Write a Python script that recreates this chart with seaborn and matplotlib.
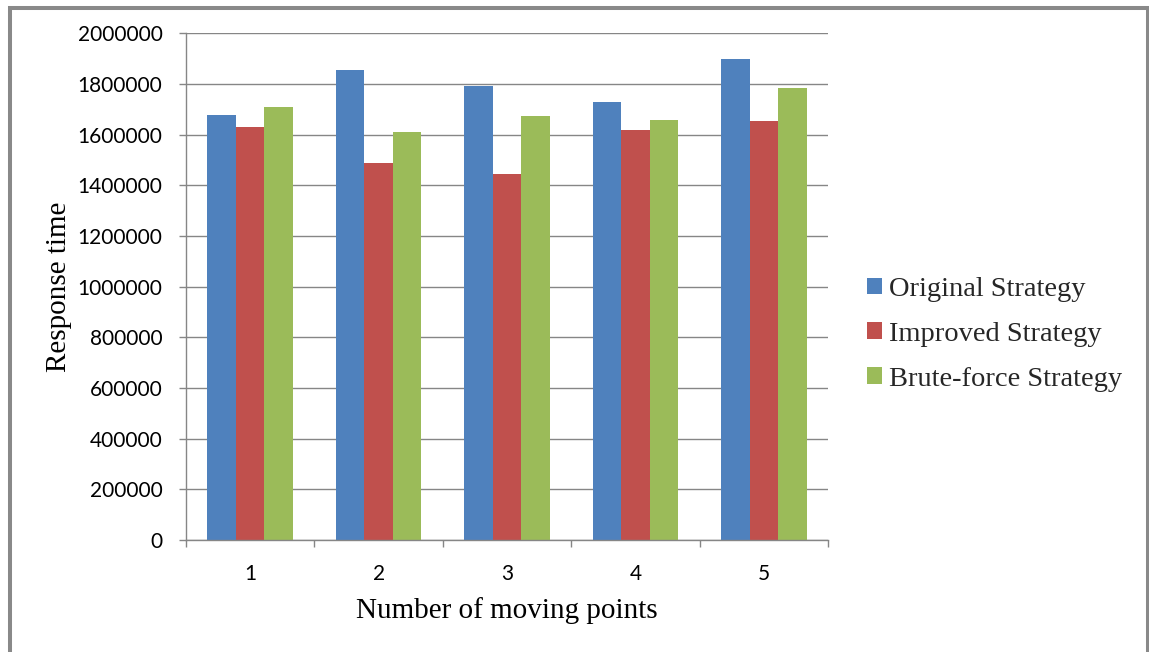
import numpy as np
import pandas as pd
import matplotlib
matplotlib.use("Agg")
import matplotlib.pyplot as plt
import seaborn as sns
from matplotlib.patches import Rectangle

# Response times per strategy, for 1..5 moving points
moving_points = ["1", "2", "3", "4", "5"]
original = [1676000, 1854000, 1792000, 1729000, 1899000]
improved = [1630000, 1487000, 1443000, 1617000, 1653000]
brute_force = [1710000, 1609000, 1672000, 1658000, 1784000]
strategies = ["Original Strategy", "Improved Strategy", "Brute-force Strategy"]
colors = ["#4F81BD", "#C0504D", "#9BBB59"]
y_ticks = list(range(0, 2000001, 200000))

df = pd.DataFrame({
    "points": moving_points * 3,
    "time": original + improved + brute_force,
    "strategy": np.repeat(strategies, len(moving_points)),
})

sns.set_theme(style="white")
plt.rcParams["font.family"] = ["Lato", "DejaVu Sans"]

W, H = 1149, 652
fig = plt.figure(figsize=(W / 100, H / 100), dpi=100)
fig.patch.set_facecolor("white")
ax = fig.add_axes([186 / W, 1 - 540 / H, (828 - 186) / W, (540 - 33.3) / H])

sns.barplot(data=df, x="points", y="time", hue="strategy", palette=colors,
            saturation=1, width=0.667, linewidth=0, ax=ax)

grey = "#868686"
ax.set_xlim(-0.5, 4.5)
ax.set_ylim(0, 2000000)
ax.set_yticks(y_ticks)
ax.yaxis.set_major_formatter(lambda v, p: f"{int(v)}")
ax.set_axisbelow(True)
ax.yaxis.grid(True, color=grey, linewidth=1.0)
ax.xaxis.grid(False)

for s in ("top", "right"):
    ax.spines[s].set_visible(False)
for s in ("left", "bottom"):
    ax.spines[s].set_color(grey)
    ax.spines[s].set_linewidth(1.0)

# category separators on the x axis
ax.set_xticks(np.arange(-0.5, 5.0, 1.0), minor=True)
ax.tick_params(axis="x", which="major", length=0, pad=17, labelsize=15, labelcolor="black")
ax.tick_params(axis="x", which="minor", length=5, width=1.0, color=grey, direction="out", bottom=True)
ax.tick_params(axis="y", which="major", length=5, width=1.0, color=grey, direction="out",
               left=True, pad=12, labelsize=15, labelcolor="black")

serif = ["Liberation Serif", "DejaVu Serif"]
ax.set_xlabel("Number of moving points", family=serif, fontsize=21, labelpad=10, color="black")
ax.set_ylabel("Response time", family=serif, fontsize=21, labelpad=4, color="black")

# legend to the right of the plot area
handles, labels = ax.get_legend_handles_labels()
if ax.legend_:
    ax.legend_.remove()
fig.legend(handles, labels, loc="center left", bbox_to_anchor=(867 / W, 1 - 334.5 / H),
           bbox_transform=fig.transFigure, frameon=False, borderpad=0, borderaxespad=0,
           handlelength=0.54, handleheight=0.54, handletextpad=0.22, labelspacing=0.70,
           prop={"family": serif, "size": 20.5})

# chart frame
fig.patches.append(Rectangle((9.5 / W, -0.05), (1147.5 - 9.5) / W, 1.05 - 7.5 / H,
                             transform=fig.transFigure, fill=False, linewidth=2.9,
                             edgecolor="#898989", clip_on=False))

fig.savefig("out.png", dpi=100)
